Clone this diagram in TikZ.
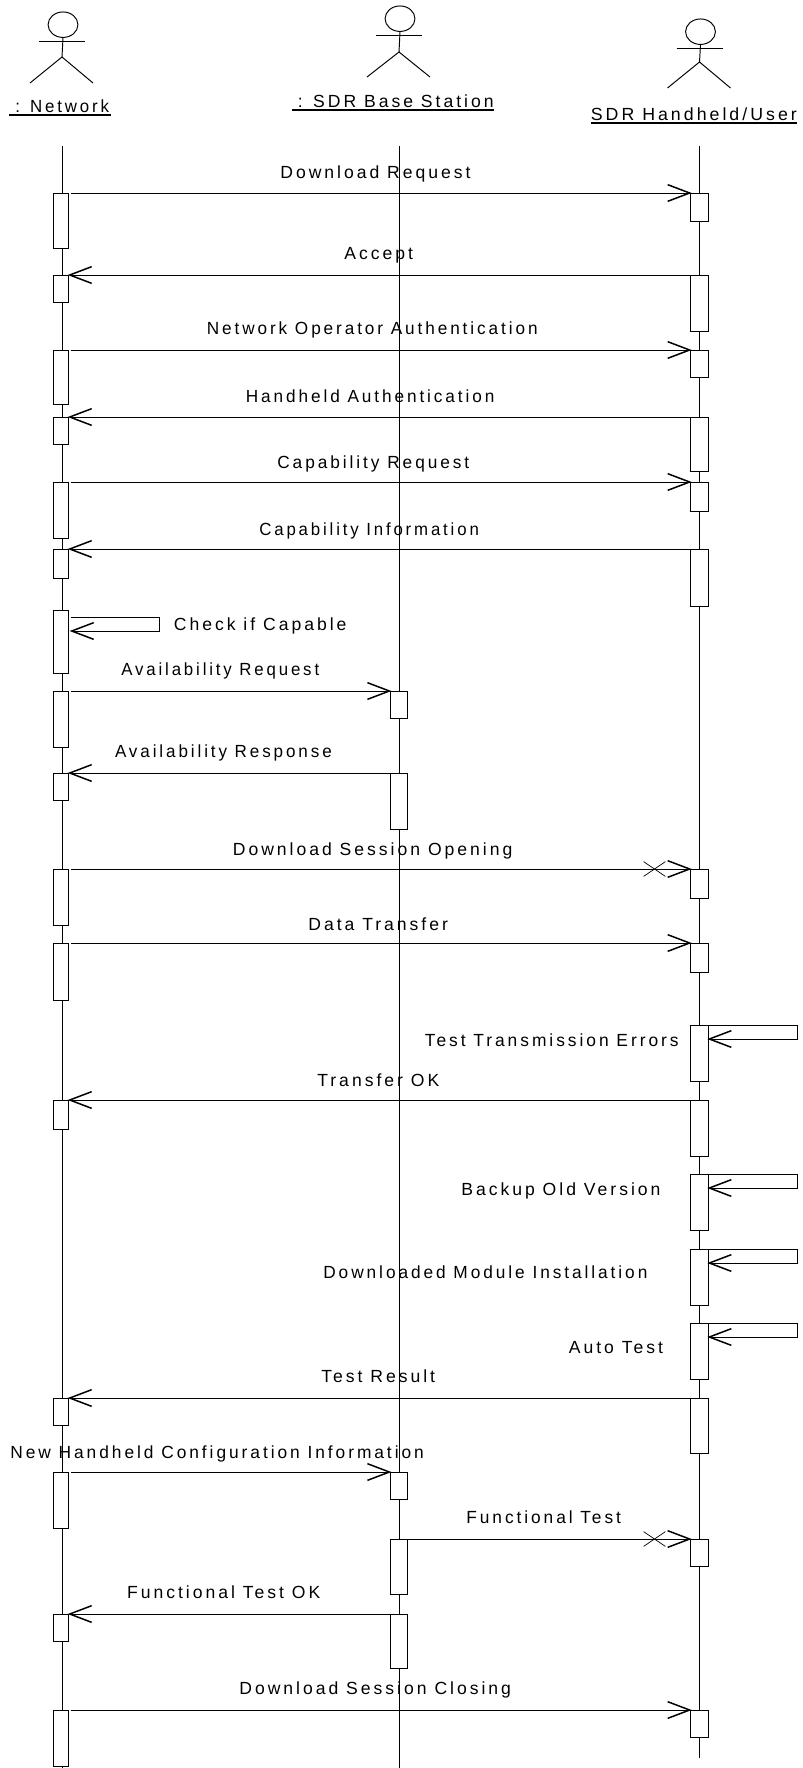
\documentclass[tikz,border=0pt]{standalone}
\usepackage{fontspec}
\setmainfont[LetterSpace=17]{Liberation Sans}
\usetikzlibrary{arrows.meta,shapes.geometric,shapes.misc}
\newcommand{\ultext}[1]{\setbox0\hbox{#1}\rlap{\rule[-2.4pt]{\wd0}{1.1pt}}\box0}
\tikzset{
  line/.style={line width=0.55pt},
  msg/.style={line,shorten >=-1pt,-{Straight Barb[length=12.5pt,width=9.5pt,line width=0.85pt]}},
  head/.style={line,draw,ellipse,inner sep=0pt,minimum width=17pt,minimum height=14.5pt},
  bar/.style={line,draw,fill=white,inner sep=0pt,anchor=north,minimum width=#1},
  lost/.style={line width=0.4pt,draw,cross out,inner sep=0pt,minimum width=12pt,minimum height=8pt},
  txt/.style={anchor=base west,inner sep=0pt,font=\fontsize{10pt}{12pt}\selectfont}
}
\begin{document}
\begin{tikzpicture}[x=0.02cm,y=-0.02cm]
  \useasboundingbox (0,0) rectangle (802,1768);
  % actors
  \foreach \name/\xc/\yt/\yh/\yf in {net/62/12/57/83,bas/399/6/52/77,usr/699.5/19/62/88} {
    \node[head] (head\name) at (\xc+1,\yt+12.7) {};
    \coordinate (arml\name) at (\xc-23,\yt+29);
    \coordinate (armr\name) at (\xc+23,\yt+29);
    \coordinate (hip\name) at (\xc,\yh);
    \coordinate (footl\name) at (\xc-32,\yf);
    \coordinate (footr\name) at (\xc+31,\yf);
    \draw[line] (head\name.south) -- (hip\name);
    \draw[line] (arml\name) -- (armr\name);
    \draw[line] (footl\name) -- (hip\name) -- (footr\name);
  }
  % lifelines
  \coordinate (nettop) at (62,146);
  \coordinate (netend) at (62,1768);
  \coordinate (bastop) at (399,146);
  \coordinate (basend) at (399,1768);
  \coordinate (usrtop) at (699.5,146);
  \coordinate (usrend) at (699.5,1758);
  \foreach \name in {net,bas,usr} \draw[line] (\name top) -- (\name end);
  % bars
  \foreach \name/\ya/\yb in {nreq/193/248,nacc/275/302,nop/350/404,nauth/417/444,
      ncreq/482/538,ncinf/549/578,nchk/610/673,naq/691/747,nar/773/800,nso/869/925,
      ndt/943/1000,nok/1100/1129,nres/1398/1425,ncfg/1472/1528,nfok/1614/1641,nsc/1710/1766}
    \node[bar=9pt,minimum height={(\yb-\ya)*0.02cm}] (\name) at (61,\ya) {};
  \foreach \name/\ya/\yb in {saq/691/718,sar/773/829,scfg/1472/1499,sft/1539/1594,sfok/1614/1668}
    \node[bar=10pt,minimum height={(\yb-\ya)*0.02cm}] (\name) at (399,\ya) {};
  \foreach \name/\ya/\yb in {hreq/193/221,hacc/275/331,hop/350/377,hauth/417/471,
      hcreq/482/511,hcinf/549/606,hso/869/898,hdt/943/972,htte/1025/1081,hok/1100/1156,
      hbak/1174/1230,hins/1249/1305,hat/1323/1379,hres/1398/1453,hft/1539/1566,hsc/1710/1737}
    \node[bar=10.3pt,minimum height={(\yb-\ya)*0.02cm}] (\name) at (699.5,\ya) {};
  % messages
  \foreach \from/\to in {nreq/hreq,nop/hop,ncreq/hcreq,naq/saq,nso/hso,ndt/hdt,ncfg/scfg,nsc/hsc}
    \draw[msg,shorten <=1pt] (\from.north east) -- (\to.north west);
  \draw[msg] (sft.north east) -- (hft.north west);
  \foreach \from/\to in {hacc/nacc,hauth/nauth,hcinf/ncinf,sar/nar,hok/nok,hres/nres,sfok/nfok}
    \draw[msg] (\from.north west) -- (\to.north east);
  \node[lost] (lostso) at (654.5,869) {};
  \node[lost] (lostft) at (654.5,1539) {};
  % self calls
  \draw[msg] (nchk.north east) ++(2,7) -- ++(88,0) -- ++(0,14) -- ++(-88,0);
  \foreach \name in {htte,hbak,hins,hat}
    \draw[msg] (\name.north east) -- ++(88,0) -- ++(0,14) -- ++(-88,0);
  % labels
  \node[txt] (lblnet) at (9,112) {\ultext{\hspace*{3.4pt}\scalebox{.96}[1]{: Network}\hspace*{1.2pt}}};
  \node[txt] (lblbas) at (291.5,107) {\ultext{\hspace*{3.4pt}: SDR Base Station}};
  \node[txt] (lblusr) at (590.5,120) {\ultext{\scalebox{1.01}[1]{SDR Handheld/User}}};
  \foreach \name/\x/\y/\sx/\str in {
      dreq/280/178/1/Download Request,acc/344/259/1/Accept,
      op/206.5/334/.977/Network Operator Authentication,auth/245.5/402/.978/Handheld Authentication,
      creq/277/468/.983/Capability Request,cinf/259/535/.956/Capability Information,
      chk/173.5/630/1/Check if Capable,areq/121/675/.957/Availability Request,
      ares/114.7/757/.97/Availability Response,dso/232.5/855/1/Download Session Opening,
      dt/308/930/1/Data Transfer,tte/424.5/1046/.99/Test Transmission Errors,
      tok/317/1086/1/Transfer OK,bak/461/1195/1/Backup Old Version,
      ins/323/1278/.983/Downloaded Module Installation,at/568.5/1353/1/Auto Test,
      res/321/1382/1/Test Result,cfg/10/1458/.987/New Handheld Configuration Information,
      ft/466/1523/.985/Functional Test,fok/126.7/1598/1/Functional Test OK,dsc/239/1694/1/Download Session Closing}
    \node[txt] (lbl\name) at (\x,\y) {\scalebox{\sx}[1]{\str}};
\end{tikzpicture}
\end{document}
